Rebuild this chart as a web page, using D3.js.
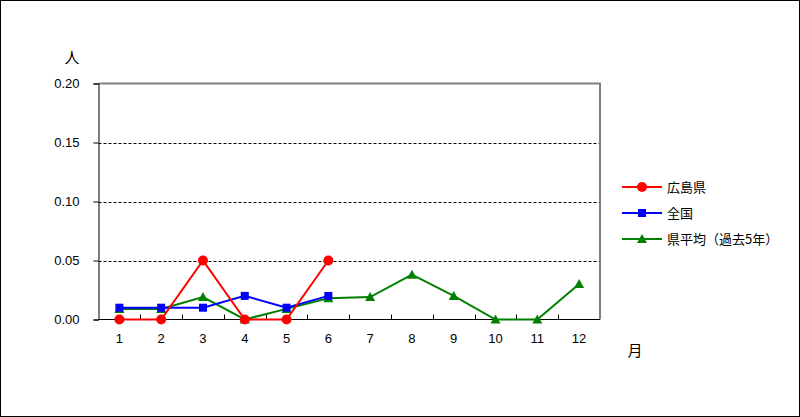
<!DOCTYPE html>
<html><head><meta charset="utf-8">
<script src="https://cdn.jsdelivr.net/npm/d3@7"></script>
<style>body{margin:0;background:#fff}svg{display:block}</style>
</head><body>
<script>
const months = ["1","2","3","4","5","6","7","8","9","10","11","12"];
const yTicks = [0, 0.05, 0.10, 0.15, 0.20];
const hiroshima = [0, 0, 0.05, 0, 0, 0.05];
const zenkoku = [0.01, 0.01, 0.01, 0.02, 0.01, 0.02];
const kenAvg = [0.009, 0.009, 0.019, 0, 0.009, 0.018, 0.019, 0.038, 0.02, 0, 0, 0.03];
const seriesNames = ["広島県", "全国", "県平均（過去5年）"];
const seriesColors = ["#ff0000", "#0000ff", "#008000"];

const W = 800, H = 417;
const svg = d3.select("body").append("svg").attr("width", W).attr("height", H);
svg.append("rect").attr("x",0.5).attr("y",0.5).attr("width",W-1).attr("height",H-1)
  .attr("fill","#fff").attr("stroke","#000");

const L = 98.5, R = 600, T = 83.5, B = 319.5;
const x = d3.scaleBand().domain(months).range([L, R]);
const y = d3.scaleLinear().domain([0, 0.2]).range([B, T]);
const font = "'Liberation Sans', Arial, sans-serif";
const cjk = "'Noto Sans CJK JP', sans-serif";

// grid
svg.append("g").selectAll("line").data(yTicks.filter(v => v > 0 && v < 0.2)).join("line")
  .attr("x1", L).attr("x2", R).attr("y1", d => Math.round(y(d))+0.5).attr("y2", d => Math.round(y(d))+0.5)
  .attr("stroke","#000").attr("stroke-width",1).attr("stroke-dasharray","3,2");

// plot frame (gray top & right)
svg.append("path").attr("d", `M${L},${T}H${R}V${B}`).attr("fill","none")
  .attr("stroke","#808080").attr("stroke-width",2);

// y axis
const yAxis = d3.axisLeft(y).tickValues(yTicks).tickFormat(d3.format(".2f")).tickSize(5).tickPadding(14);
const gy = svg.append("g").attr("transform",`translate(${L},0)`).call(yAxis);
gy.select(".domain").attr("stroke","#000");
gy.selectAll("text").attr("font-family",font).attr("font-size",13).attr("fill","#000");

// x axis
const gx = svg.append("g").attr("transform",`translate(0,${B})`)
  .call(d3.axisBottom(x).tickSize(0).tickPadding(14));
gx.select(".domain").attr("stroke","#000").attr("d", `M${L},0H${R}`);
gx.selectAll("text").attr("font-family",font).attr("font-size",13).attr("fill","#000");
// inner ticks at band boundaries
svg.append("g").selectAll("line").data(months.slice(1)).join("line")
  .attr("x1", d => Math.round(x(d))+0.5).attr("x2", d => Math.round(x(d))+0.5)
  .attr("y1", B).attr("y2", B-5).attr("stroke","#000");

// unit labels
svg.append("text").attr("x",72).attr("y",63).attr("text-anchor","middle")
  .attr("font-family",cjk).attr("font-size",15).text("人");
svg.append("text").attr("x",635).attr("y",356).attr("text-anchor","middle")
  .attr("font-family",cjk).attr("font-size",15).text("月");

const data = [hiroshima, zenkoku, kenAvg];
const line = d3.line().x((d,i) => x(months[i]) + x.bandwidth()/2).y(d => y(d));
function marker(g, k, cx, cy, col) {
  if (k === 0) g.append("circle").attr("cx",cx).attr("cy",cy).attr("r",5).attr("fill",col);
  else if (k === 1) g.append("rect").attr("x",cx-4).attr("y",cy-4).attr("width",8).attr("height",8).attr("fill",col);
  else g.append("path").attr("d",`M${cx},${cy-5}L${cx+5},${cy+4}L${cx-5},${cy+4}Z`).attr("fill",col);
}
// draw order: green, blue, red (red on top)
[2,1,0].forEach(k => {
  const g = svg.append("g");
  g.append("path").datum(data[k]).attr("d", line).attr("fill","none")
    .attr("stroke", seriesColors[k]).attr("stroke-width",2);
  data[k].forEach((v,i) => marker(g, k, x(months[i]) + x.bandwidth()/2, y(v), seriesColors[k]));
});

// legend
const lg = svg.append("g");
seriesNames.forEach((n,k) => {
  const ly = 187 + k*26;
  lg.append("line").attr("x1",622).attr("x2",662).attr("y1",ly).attr("y2",ly)
    .attr("stroke",seriesColors[k]).attr("stroke-width",2);
  marker(lg, k, 642, ly, seriesColors[k]);
  lg.append("text").attr("x",667).attr("y",ly+5).attr("font-family",cjk).attr("font-size",13).text(n);
});
</script>
</body></html>
